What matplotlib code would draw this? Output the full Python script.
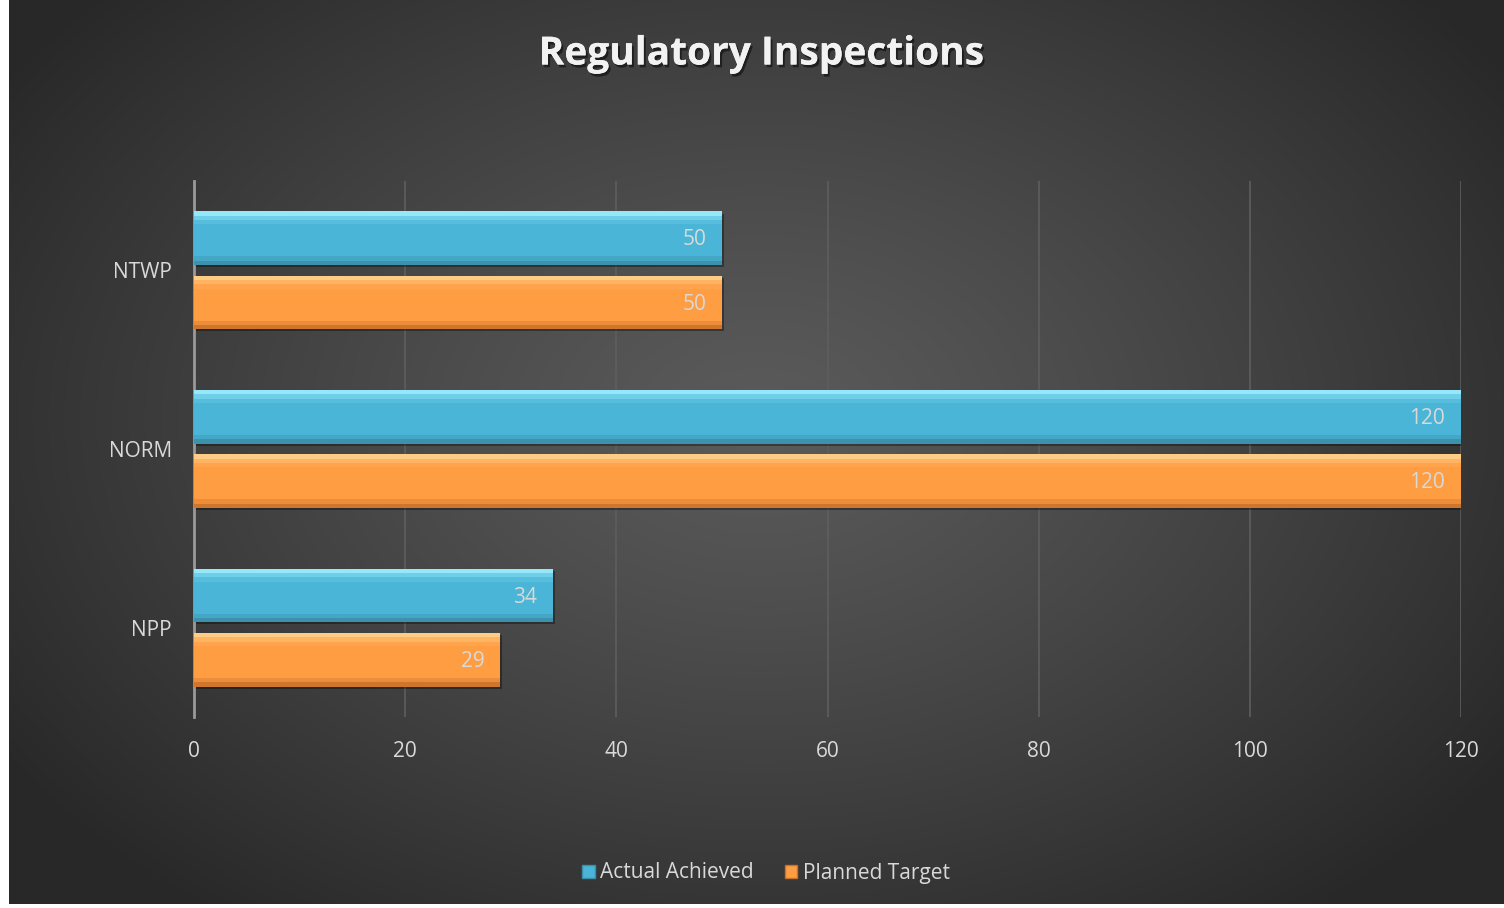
import numpy as np
import matplotlib
matplotlib.use("Agg")
import matplotlib.pyplot as plt
from matplotlib.patches import Patch
import matplotlib.patheffects as pe

plt.rcParams['font.family'] = ['Open Sans', 'DejaVu Sans']

# data
categories = ['NPP', 'NORM', 'NTWP']
actual_achieved = [34, 120, 50]
planned_target = [29, 120, 50]
x_ticks = [0, 20, 40, 60, 80, 100, 120]

blue = '#4ab5d6'
blue_hi = '#9deeff'
blue_lo = '#3b8fa9'
orange = '#ff9d42'
orange_hi = '#ffd28e'
orange_lo = '#c9722b'
text_col = '#d9d9d9'

W, H = 1504, 908
fig = plt.figure(figsize=(W / 100, H / 100), dpi=100, facecolor='white')

# background radial gradient
bg = fig.add_axes([0, 0, 1, 1], zorder=0)
bg.set_xlim(0, W)
bg.set_ylim(H, 0)
bg.axis('off')
yy, xx = np.mgrid[0:H:2, 9:W:2]
r = np.sqrt(((xx - 760) / 900.0) ** 2 + ((yy - 420) / 620.0) ** 2)
r = np.clip(r, 0, 1)
val = 0.355 - (0.355 - 0.16) * r ** 1.2
img = np.dstack([val, val, val])
bg.imshow(img, extent=[9, W, 904, 0], aspect='auto', interpolation='bilinear')

# main axes
ax = fig.add_axes([194 / W, 1 - 717 / H, (1461 - 194) / W, (717 - 181) / H], zorder=1)
ax.patch.set_alpha(0)

y = np.arange(len(categories))
off = 0.18
h = 0.30

def bevel_bars(ypos, vals, base, hi, lo):
    # shadow
    ax.barh(ypos - 0.012, vals, height=h, left=0.15, color='black', alpha=0.35, zorder=2)
    ax.barh(ypos, vals, height=h, color=base, zorder=3, linewidth=0)
    # highlight at top, darker strip at bottom
    ax.barh(ypos + h / 2 - 0.012, vals, height=0.024, color=hi, alpha=0.9, zorder=4, linewidth=0)
    ax.barh(ypos + h / 2 - 0.036, vals, height=0.024, color=hi, alpha=0.45, zorder=4, linewidth=0)
    ax.barh(ypos + h / 2 - 0.06, vals, height=0.024, color=hi, alpha=0.15, zorder=4, linewidth=0)
    ax.barh(ypos - h / 2 + 0.012, vals, height=0.024, color=lo, alpha=0.9, zorder=4, linewidth=0)
    ax.barh(ypos - h / 2 + 0.036, vals, height=0.024, color=lo, alpha=0.35, zorder=4, linewidth=0)

bevel_bars(y + off, actual_achieved, blue, blue_hi, blue_lo)
bevel_bars(y - off, planned_target, orange, orange_hi, orange_lo)

for yi, v in zip(y + off, actual_achieved):
    ax.text(v - 1.5, yi - 0.01, str(v), ha='right', va='center', color=text_col, fontsize=15, zorder=5)
for yi, v in zip(y - off, planned_target):
    ax.text(v - 1.5, yi - 0.01, str(v), ha='right', va='center', color=text_col, fontsize=15, zorder=5)

ax.set_xlim(0, 120)
ax.set_ylim(-0.5, 2.5)
ax.set_xticks(x_ticks)
ax.set_yticks(y)
ax.set_yticklabels(categories)
ax.tick_params(axis='both', length=0, colors=text_col, labelsize=15)
ax.tick_params(axis='x', pad=17)
ax.tick_params(axis='y', pad=16)
ax.grid(axis='x', color='#5e5e5e', linewidth=1.2, zorder=1)
ax.set_axisbelow(True)
for s in ['top', 'right', 'bottom']:
    ax.spines[s].set_visible(False)
ax.spines['left'].set_color('#9a9a9a')
ax.spines['left'].set_linewidth(2)

# title
fig.text(761 / W, 1 - 54 / H, 'Regulatory Inspections', ha='center', va='center',
         fontsize=28, fontweight='bold', color='#f2f2f2',
         path_effects=[pe.withSimplePatchShadow(offset=(1.5, -2), shadow_rgbFace='black', alpha=0.5),
                       pe.Normal()])

# legend
handles = [Patch(facecolor=blue, edgecolor=blue_lo, label='Actual Achieved'),
           Patch(facecolor=orange, edgecolor=orange_lo, label='Planned Target')]
leg = fig.legend(handles=handles, loc='center', bbox_to_anchor=(766 / W, 1 - 873 / H), ncol=2,
                 frameon=False, fontsize=15, handlelength=0.6, handleheight=0.6,
                 handletextpad=0.25, columnspacing=1.5)
for t in leg.get_texts():
    t.set_color(text_col)

fig.savefig('out.png', dpi=100, facecolor='white')
